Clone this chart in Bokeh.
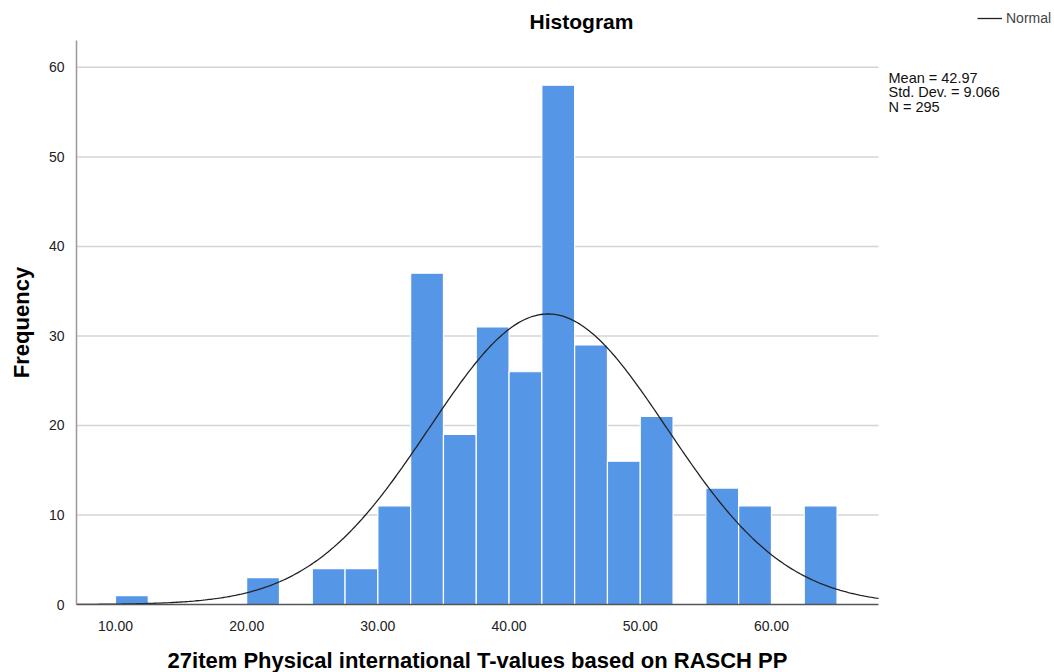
import numpy as np
from bokeh.plotting import figure
from bokeh.models import (Range1d, FixedTicker, NumeralTickFormatter, Label,
                          Legend, LegendItem, ColumnDataSource)
from bokeh.embed import file_html
from bokeh.resources import INLINE

# data
bin_left = [10.0, 20.0, 25.0, 27.5, 30.0, 32.5, 35.0, 37.5, 40.0, 42.5, 45.0,
            47.5, 50.0, 55.0, 57.5, 62.5]
bin_width = 2.5
counts = [1, 3, 4, 4, 11, 37, 19, 31, 26, 58, 29, 16, 21, 13, 11, 11]
mean_val = 42.97
sd_val = 9.066
n_val = 295
x_ticks = [10, 20, 30, 40, 50, 60]
y_ticks = [0, 10, 20, 30, 40, 50, 60]
stats = ["Mean = 42.97", "Std. Dev. = 9.066", "N = 295"]
title_text = "Histogram"
x_title = "27item Physical international T-values based on RASCH PP"
y_title = "Frequency"

FONT = "Liberation Sans"
W, H = 1054, 672

# axis extents (data units)
X_LO, X_HI = 7.03, 68.16
Y_LO, Y_HI = 0.0, 63.0
# where those extents sit on the canvas (px)
PL, PR, PT, PB = 76, 878, 40, 604
PX_PER_X = (PR - PL) / (X_HI - X_LO)
PX_PER_Y = (PB - PT) / (Y_HI - Y_LO)

# the frame covers the whole canvas; axes are pinned inside it
p = figure(width=W, height=H, output_backend="svg", toolbar_location=None,
           x_range=Range1d(X_LO - PL / PX_PER_X, X_LO + (W - PL) / PX_PER_X),
           y_range=Range1d(Y_LO - (H - PB) / PX_PER_Y, Y_LO + PB / PX_PER_Y),
           min_border=0)
p.outline_line_color = None
p.background_fill_color = "white"
p.border_fill_color = "white"
p.xgrid.grid_line_color = None
p.ygrid.grid_line_color = None

grid_y = [t for t in y_ticks if t > 0]
p.segment(x0=X_LO, x1=X_HI, y0=grid_y, y1=grid_y, line_color="#d4d4d4",
          line_width=1.5)

src = ColumnDataSource(dict(left=bin_left,
                            right=[b + bin_width for b in bin_left],
                            top=counts))
p.quad(left="left", right="right", bottom=0, top="top", source=src,
       fill_color="#5596e6", line_color="white", line_width=1.2)

xs = np.linspace(X_LO, X_HI, 400)
ys = n_val * bin_width * np.exp(-0.5 * ((xs - mean_val) / sd_val) ** 2) / (sd_val * np.sqrt(2 * np.pi))
curve = p.line(xs, ys, line_color="#222222", line_width=1.3)

for ax in (p.xaxis[0], p.yaxis[0]):
    ax.major_tick_line_color = None
    ax.minor_tick_line_color = None
    ax.major_label_text_font = FONT
    ax.major_label_text_font_size = "14px"
    ax.major_label_text_color = "#222222"
    ax.axis_label = None

p.xaxis.fixed_location = Y_LO
p.xaxis.bounds = (X_LO, X_HI)
p.xaxis.ticker = FixedTicker(ticks=x_ticks)
p.xaxis.formatter = NumeralTickFormatter(format="0.00")
p.xaxis.axis_line_color = "#555555"
p.xaxis.axis_line_width = 1.5
p.xaxis.major_label_standoff = 10

p.yaxis.fixed_location = X_LO
p.yaxis.bounds = (Y_LO, Y_HI)
p.yaxis.ticker = FixedTicker(ticks=y_ticks)
p.yaxis.axis_line_color = "#999999"
p.yaxis.axis_line_width = 1.5
p.yaxis.major_label_standoff = 6

# screen units: measured from the frame's bottom-left (= canvas bottom-left)
def sy(y):
    return H - y

def text_label(x, y, text, size, bold=False, angle=0.0, align="center",
               baseline="middle", color="black"):
    p.add_layout(Label(x=x, y=sy(y), x_units="screen", y_units="screen",
                       text=text, text_font=FONT, text_font_size=size,
                       text_font_style="bold" if bold else "normal",
                       angle=angle, text_align=align, text_baseline=baseline,
                       text_color=color))

text_label(581, 20.5, title_text, "21px", bold=True)
text_label((PL + PR) / 2, 660, x_title, "22px", bold=True)
text_label(21, (PT + PB) / 2, y_title, "22px", bold=True, angle=np.pi / 2)

for i, s in enumerate(stats):
    text_label(888, 77 + i * 14.5, s, "14.5px", align="left",
               color="#111111")

legend = Legend(items=[LegendItem(label="Normal", renderers=[curve])],
                location=(977, sy(26)), orientation="vertical",
                label_text_font=FONT, label_text_font_size="14px",
                glyph_width=25, glyph_height=14, padding=0, margin=0,
                border_line_color=None, background_fill_alpha=0,
                label_standoff=4, label_height=14)
p.add_layout(legend)

open("out.html", "w").write(file_html(p, INLINE))
